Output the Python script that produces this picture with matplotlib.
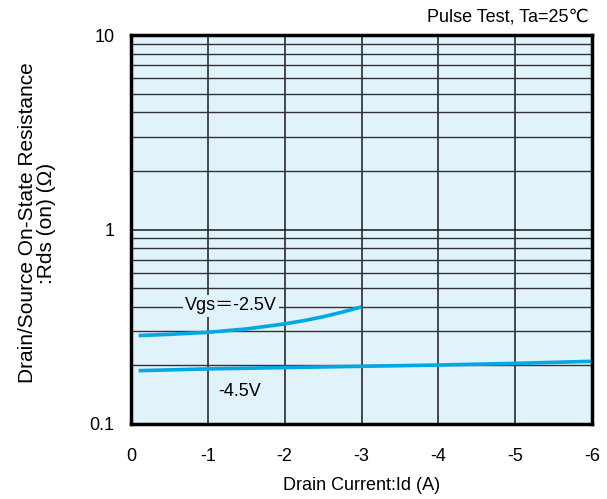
import matplotlib
matplotlib.use("Agg")
import matplotlib.pyplot as plt
from matplotlib.ticker import FixedLocator, NullFormatter, LogLocator

plt.rcParams['font.family'] = ['Liberation Sans', 'DejaVu Sans', 'Noto Sans CJK JP']

# Data
id_25 = [-0.1, -0.5, -1.0, -1.5, -2.0, -2.25, -2.5, -2.75, -3.0]
rds_25 = [0.285, 0.289, 0.296, 0.308, 0.327, 0.34, 0.356, 0.376, 0.40]
id_45 = [-0.1, -1.0, -2.0, -3.0, -4.0, -5.0, -6.0]
rds_45 = [0.188, 0.192, 0.195, 0.198, 0.201, 0.205, 0.21]
x_ticks = [0, -1, -2, -3, -4, -5, -6]
x_ticklabels = ["0", "-1", "-2", "-3", "-4", "-5", "-6"]
y_ticks = [0.1, 1, 10]
y_ticklabels = ["0.1", "1", "10"]

bg = "#E0F2FA"
line_c = "#00A8E6"

W, H = 607, 499
L, R, T, B = 131, 592, 35, 424

fig = plt.figure(figsize=(W/100, H/100), dpi=100)
ax = fig.add_axes([L/W, 1-B/H, (R-L)/W, (B-T)/H])
ax.set_facecolor(bg)
ax.set_yscale('log')
ax.set_xlim(0, -6)
ax.set_ylim(0.1, 10)

ax.xaxis.set_major_locator(FixedLocator(x_ticks))
ax.set_xticklabels(x_ticklabels)
ax.yaxis.set_major_locator(FixedLocator(y_ticks))
ax.set_yticklabels(y_ticklabels)
ax.yaxis.set_minor_locator(LogLocator(base=10, subs=range(2, 10)))
ax.yaxis.set_minor_formatter(NullFormatter())

ax.grid(True, which='major', axis='both', color='#1a1a1a', linewidth=1.1)
ax.grid(True, which='minor', axis='y', color='#333333', linewidth=1.0)
ax.set_axisbelow(True)

ax.tick_params(which='both', length=0, labelsize=13)
ax.tick_params(axis='y', pad=12)
ax.tick_params(axis='x', pad=17)
for s in ax.spines.values():
    s.set_linewidth(2.5)
    s.set_color('black')

ax.plot(id_25, rds_25, color=line_c, linewidth=2.6, solid_capstyle='butt')
ax.plot(id_45, rds_45, color=line_c, linewidth=2.6, solid_capstyle='butt')

ax.text(-1.3, 0.405, "Vgs\uFF1D-2.5V", fontsize=13, ha='center', va='center',
        bbox=dict(facecolor=bg, edgecolor='none', pad=1.5))
ax.text(-1.42, 0.147, "-4.5V", fontsize=13, ha='center', va='center')

ax.set_xlabel("Drain Current:Id (A)", fontsize=13, labelpad=9)

fig.text(37/W, 1-223/H, "Drain/Source On-State Resistance\n:Rds (on) (\u03a9)", fontsize=15,
         rotation=90, ha='center', va='center', multialignment='center', linespacing=1.05)

fig.text(589/W, 1-17/H, "Pulse Test, Ta=25\u2103", fontsize=13, ha='right', va='center')

fig.savefig("out.png", dpi=100, facecolor='white')
